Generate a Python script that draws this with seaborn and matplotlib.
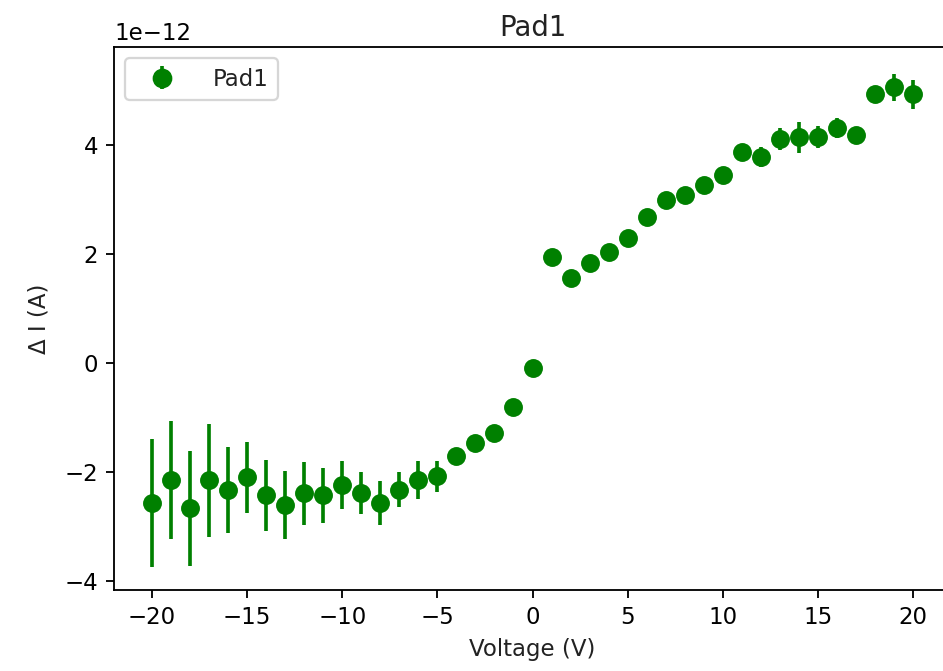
import numpy as np
import pandas as pd
import matplotlib
matplotlib.use("Agg")
import matplotlib.pyplot as plt
import seaborn as sns
from matplotlib.legend_handler import HandlerTuple

voltage = list(range(-20, 21))
delta_i = [-2.57, -2.15, -2.67, -2.15, -2.33, -2.10, -2.43, -2.61, -2.39, -2.43,
           -2.24, -2.39, -2.57, -2.33, -2.15, -2.08, -1.71, -1.47, -1.29, -0.81,
           -0.09, 1.95, 1.56, 1.84, 2.04, 2.30, 2.68, 3.00, 3.09, 3.27,
           3.46, 3.88, 3.79, 4.12, 4.15, 4.15, 4.32, 4.19, 4.94, 5.07, 4.94]
delta_err = [1.18, 1.08, 1.06, 1.04, 0.79, 0.65, 0.65, 0.62, 0.58, 0.50,
             0.44, 0.38, 0.40, 0.32, 0.35, 0.28, 0.12, 0.10, 0.10, 0.10,
             0.10, 0.10, 0.10, 0.10, 0.12, 0.10, 0.12, 0.10, 0.12, 0.15,
             0.15, 0.15, 0.18, 0.20, 0.29, 0.20, 0.18, 0.15, 0.12, 0.25, 0.27]
scale = 1e-12

df = pd.DataFrame({"Voltage": voltage,
                   "dI": np.array(delta_i) * scale,
                   "err": np.array(delta_err) * scale})

sns.set_style("ticks")
plt.rcParams["font.family"] = ["DejaVu Sans"]
plt.rcParams["axes.edgecolor"] = "black"
plt.rcParams["xtick.color"] = "black"
plt.rcParams["ytick.color"] = "black"
plt.rcParams["text.color"] = "#222222"
plt.rcParams["axes.labelcolor"] = "#222222"

DPI = 165
fig = plt.figure(figsize=(943 / DPI, 671 / DPI), dpi=DPI)
ax = fig.add_axes([0.1209, 0.1207, 0.8876, 0.8093])

green = "#008000"
eb = ax.errorbar(df["Voltage"], df["dI"], yerr=df["err"], fmt="none",
                 ecolor=green, elinewidth=1.6, zorder=2)
sns.scatterplot(data=df, x="Voltage", y="dI", ax=ax, color=green, s=68,
                edgecolor=green, linewidth=0, zorder=3, legend=False)

mk = plt.Line2D([], [], marker="o", color=green, ls="none", markersize=7.6)
ax.legend([(eb, mk)], ["Pad1"], handler_map={tuple: HandlerTuple(ndivide=1)},
          loc="upper left", fontsize=10, handlelength=2.4, handletextpad=1.0)

ax.set_xlim(-22, 22)
ax.set_ylim(-4.17e-12, 5.81e-12)
ax.set_xticks([-20, -15, -10, -5, 0, 5, 10, 15, 20])
ax.set_yticks(np.array([-4, -2, 0, 2, 4]) * scale)
ax.tick_params(labelsize=10, length=3.5, width=0.8)
ax.yaxis.get_offset_text().set_fontsize(10)
ax.set_xlabel("Voltage (V)", fontsize=10)
ax.set_ylabel("Δ I (A)", fontsize=10, labelpad=6)
ax.set_title("Pad1", fontsize=12, pad=5)
for s in ax.spines.values():
    s.set_linewidth(0.8)

fig.savefig("out.png", dpi=DPI)
